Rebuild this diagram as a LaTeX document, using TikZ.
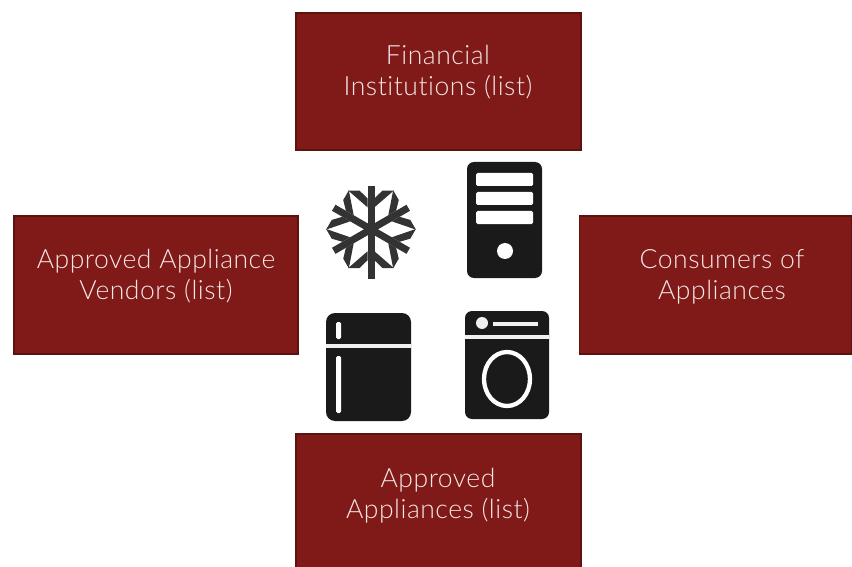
\documentclass[tikz,border=0pt]{standalone}
\usepackage{fontspec}
\setmainfont{Lato}[UprightFont=* Light, Ligatures=NoCommon, LetterSpace=2]
\usetikzlibrary{positioning}

\definecolor{boxred}{HTML}{7F1A18}
\definecolor{boxedge}{HTML}{5E1210}
\definecolor{boxtext}{HTML}{F6E6E6}
\definecolor{icon}{HTML}{1A1A1A}
\definecolor{flake}{HTML}{333333}
\definecolor{iconline}{HTML}{F0F0F0}

\begin{document}
\begin{tikzpicture}
[
    x=1pt, y=-1pt,
    % The boxes are named box-t, box-l, box-r, box-b
    % Their labels are named lbl-t, lbl-l, lbl-r, lbl-b
]

%=================================== Start ===================================
\tikzstyle{box}  = [draw=boxedge, fill=boxred, line width=1.6pt, shape=rectangle,
                    inner sep=0pt, outer sep=0pt]
\tikzstyle{lbl}  = [align=center, text=boxtext, font=\fontsize{26.5}{31}\selectfont,
                    inner sep=0pt]
\tikzstyle{body} = [fill=icon, rounded corners=7pt]
\tikzstyle{slot} = [fill=white, rounded corners=1.5pt]

\useasboundingbox (0,0) rectangle (852,567);

% Draw boxes
\foreach \name / \x / \y / \w / \h in {t/438.5/81.5/285/137, l/156/285/284/138,
                                       r/715.5/285/272/138, b/438.5/502/285/136}
    \node[box, minimum width=\w pt, minimum height=\h pt] (box-\name) at (\x,\y) {};

% Draw labels
\node[lbl] (lbl-t) at (438,72.5)  {Financial\\Institutions (list)};
\node[lbl] (lbl-l) at (156,276.5) {Approved Appliance\\Vendors (list)};
\node[lbl] (lbl-r) at (722,276.5) {Consumers of\\Appliances};
\node[lbl] (lbl-b) at (438,495.5) {Approved\\Appliances (list)};

% Draw the snowflake
\foreach \a in {30,90,...,330}
{
    \begin{scope}[shift={(371,229.3)}, rotate=\a]
        \fill[flake] (0,-3.5) -- (43,-3.5) -- (43,3.5) -- (0,3.5) -- cycle;
        \fill[flake] (31,3.5) -- (38.7,11.5) -- (38.7,22.7) -- (22,3.5) -- cycle;
        \fill[flake] (31,-3.5) -- (38.7,-11.5) -- (38.7,-22.7) -- (22,-3.5) -- cycle;
    \end{scope}
}
% The stem runs on below the hub
\fill[flake] (367.5,229.3) rectangle (374.5,278.5);

% Draw the tower
\fill[body] (467,162) rectangle (542,278);
\foreach \y in {173,192,211}
    \fill[slot] (476,\y) rectangle (533,\y+13);
\fill[white] (505,251) circle (8);

% Draw the fridge
\fill[body, rounded corners=9pt] (326,313) rectangle (411,421);
\fill[iconline] (326,343.5) rectangle (411,347.5);
\fill[slot] (336,322) rectangle (341,339);
\fill[slot] (336,356) rectangle (341,413);

% Draw the washer
\fill[body] (465,311) rectangle (549,419);
\fill[iconline] (465,335) rectangle (549,339);
\fill[iconline] (482,323) circle (6);
\fill[iconline] (493,322) rectangle (538,325.5);
\draw[white, line width=4.3pt] (507,379) ellipse (23 and 27);
%==================================== END ====================================

\end{tikzpicture}
\end{document}
